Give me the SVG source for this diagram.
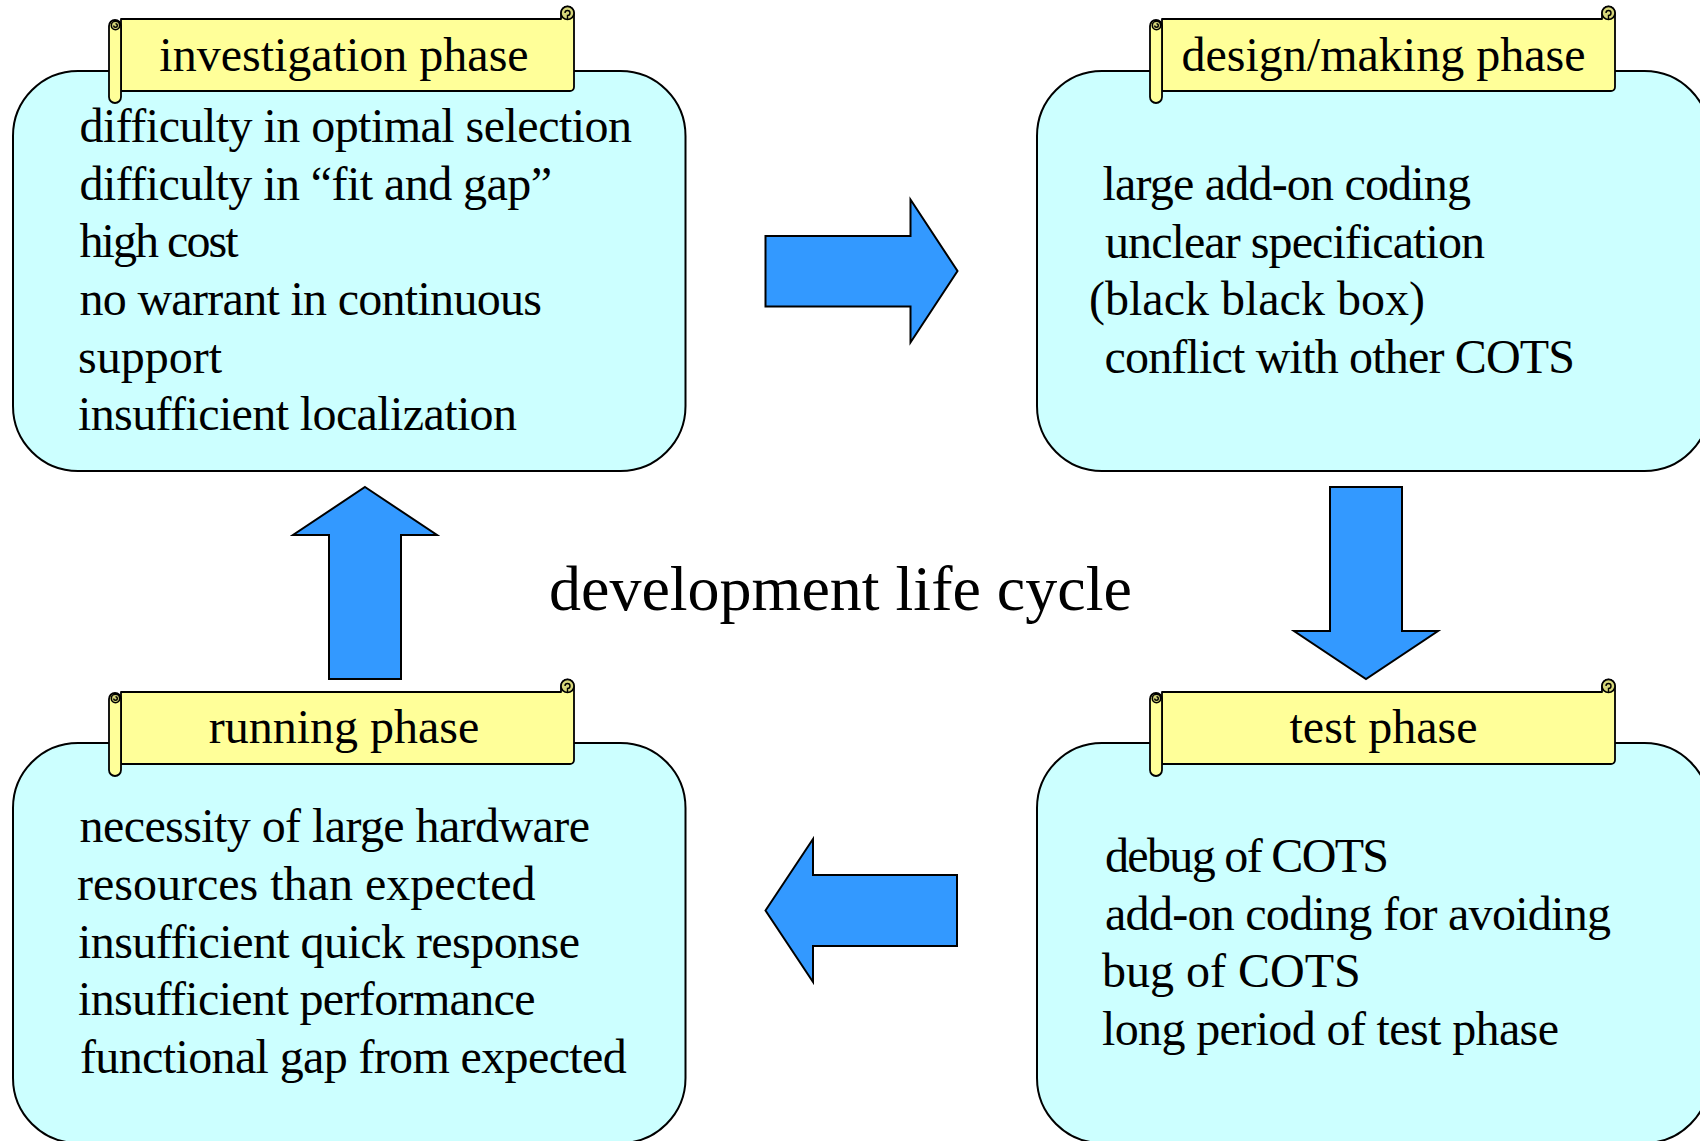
<svg xmlns="http://www.w3.org/2000/svg" xmlns:xlink="http://www.w3.org/1999/xlink" width="1700" height="1141" viewBox="0 0 1700 1141">
  <style>
    .box { fill: #CCFFFF; stroke: #000; stroke-width: 2; }
    .scroll-body { fill: #FFFF99; stroke: #000; stroke-width: 1.8; stroke-linejoin: round; }
    .roll { fill: #FFFF99; stroke: #000; stroke-width: 1.8; }
    .curl { fill: #D6D67A; stroke: #000; stroke-width: 1.6; }
    .curl-line { fill: none; stroke: #000; stroke-width: 1.4; }
    .arrow { fill: #3399FF; stroke: #000; stroke-width: 2; stroke-linejoin: miter; }
    .title { font-family: "Liberation Serif", "Times New Roman", serif; font-size: 48px; fill: #000; text-anchor: middle; }
    .item { font-family: "Liberation Serif", "Times New Roman", serif; font-size: 48px; fill: #000; }
    .center { font-family: "Liberation Serif", "Times New Roman", serif; font-size: 64px; fill: #000; }
  </style>
  <defs>
    <!-- scroll banner, origin at the left edge of the roll / top edge of the body -->
    <g id="scroll">
      <path class="scroll-body" d="M12,0 H452 V-6 A6.5,6.5 0 1 1 465,-6 V68 A4,4 0 0 1 461,72 H12 Z"/>
      <circle class="curl" cx="458.5" cy="-6" r="6.5"/>
      <path class="curl-line" d="M458.5,-6 m-2.5,0 a2.5,2.5 0 1 1 2.5,2.5 V0.5"/>
      <rect class="roll" x="0" y="1" width="12" height="83" rx="6"/>
      <circle class="curl" cx="6.5" cy="6.5" r="4.2"/>
      <path class="curl-line" d="M6.5,6.5 m0,-1.8 a1.8,1.8 0 1 1 -1.8,1.8"/>
    </g>
  </defs>

  <!-- investigation phase -->
  <g id="investigation">
    <rect class="box" x="13" y="71" width="672.5" height="400" rx="65"/>
    <use xlink:href="#scroll" x="109" y="19"/>
    <text class="title" x="344" y="71">investigation phase</text>
    <text class="item" x="79.5" y="142" textLength="552.5" lengthAdjust="spacing">difficulty in optimal selection</text>
    <text class="item" x="79.5" y="199.5" textLength="472.5" lengthAdjust="spacing">difficulty in “fit and gap”</text>
    <text class="item" x="79.5" y="257" textLength="159" lengthAdjust="spacing">high cost</text>
    <text class="item" x="79.5" y="315" textLength="462.5" lengthAdjust="spacing">no warrant in continuous</text>
    <text class="item" x="78" y="372.5">support</text>
    <text class="item" x="78" y="430" textLength="439" lengthAdjust="spacing">insufficient localization</text>
  </g>

  <!-- design/making phase -->
  <g id="design">
    <rect class="box" x="1037" y="71" width="672.5" height="400" rx="65"/>
    <use xlink:href="#scroll" x="1150" y="19"/>
    <text class="title" x="1383.5" y="71">design/making phase</text>
    <text class="item" x="1102.5" y="200" textLength="368.5" lengthAdjust="spacing">large add-on coding</text>
    <text class="item" x="1105" y="258" textLength="380" lengthAdjust="spacing">unclear specification</text>
    <text class="item" x="1089" y="315">(black black box)</text>
    <text class="item" x="1104.5" y="373" textLength="470.5" lengthAdjust="spacing">conflict with other COTS</text>
  </g>

  <!-- test phase -->
  <g id="test">
    <rect class="box" x="1037" y="743" width="672.5" height="400" rx="65"/>
    <use xlink:href="#scroll" x="1150" y="692"/>
    <text class="title" x="1383.5" y="743">test phase</text>
    <text class="item" x="1105" y="872" textLength="284" lengthAdjust="spacing">debug of COTS</text>
    <text class="item" x="1105" y="930" textLength="506" lengthAdjust="spacing">add-on coding for avoiding</text>
    <text class="item" x="1102" y="987">bug of COTS</text>
    <text class="item" x="1102" y="1045" textLength="457" lengthAdjust="spacing">long period of test phase</text>
  </g>

  <!-- running phase -->
  <g id="running">
    <rect class="box" x="13" y="743" width="672.5" height="400" rx="65"/>
    <use xlink:href="#scroll" x="109" y="692"/>
    <text class="title" x="344" y="743">running phase</text>
    <text class="item" x="79.5" y="842" textLength="510.5" lengthAdjust="spacing">necessity of large hardware</text>
    <text class="item" x="77" y="900">resources than expected</text>
    <text class="item" x="78" y="958" textLength="502" lengthAdjust="spacing">insufficient quick response</text>
    <text class="item" x="78" y="1015" textLength="457.6" lengthAdjust="spacing">insufficient performance</text>
    <text class="item" x="80" y="1073" textLength="546.7" lengthAdjust="spacing">functional gap from expected</text>
  </g>

  <!-- cycle arrows -->
  <g id="connectors">
    <path class="arrow" d="M765.5,236 H910.5 V199.5 L957.5,271 L910.5,342.5 V306.5 H765.5 Z"/>
    <path class="arrow" d="M1330,487 H1402 V631 H1438 L1366,679 L1294,631 H1330 Z"/>
    <path class="arrow" d="M765.5,910.5 L813,839 V875 H957 V946 H813 V982 Z"/>
    <path class="arrow" d="M365,487 L437,535 H401 V679 H329 V535 H293 Z"/>
  </g>

  <text class="center" x="549" y="610">development life cycle</text>
</svg>
